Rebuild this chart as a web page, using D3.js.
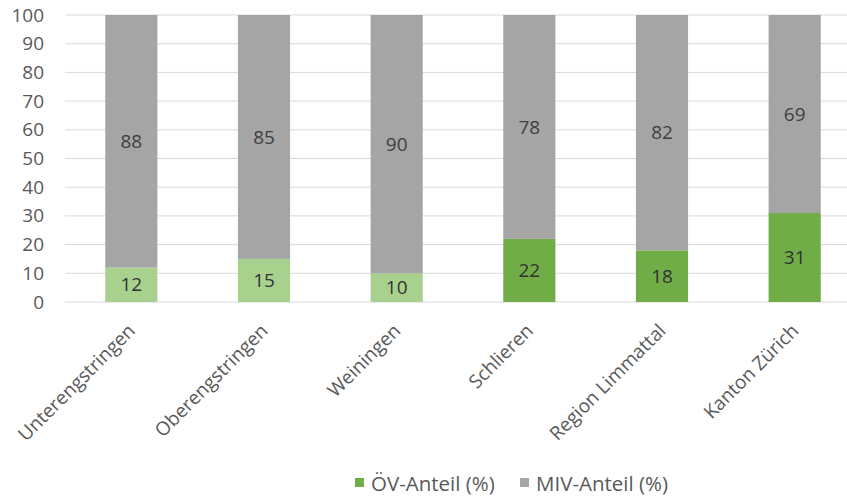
<!DOCTYPE html>
<html>
<head>
<meta charset="utf-8">
<script src="https://cdn.jsdelivr.net/npm/d3@7"></script>
<style>
    body { margin: 0; background: #fff; }
    svg { display: block; font-family: "Open Sans", sans-serif; }
    .tick text { fill: #595959; font-family: "Open Sans", sans-serif; }
</style>
</head>
<body>
<svg id="chart" width="847" height="497"></svg>
<script>
// Chart data
const categories = ["Unterengstringen", "Oberengstringen", "Weiningen", "Schlieren", "Region Limmattal", "Kanton Zürich"];
const oevValues = [12, 15, 10, 22, 18, 31];
const mivValues = [88, 85, 90, 78, 82, 69];
const oevColors = ["#a9d18e", "#a9d18e", "#a9d18e", "#70ad47", "#70ad47", "#70ad47"];
const yTicks = [0, 10, 20, 30, 40, 50, 60, 70, 80, 90, 100];
const seriesNames = ["ÖV-Anteil (%)", "MIV-Anteil (%)"];

const svg = d3.select("#chart");
const margin = { top: 15, left: 65, bottom: 195 };
const plotW = 796;
const plotH = 497 - margin.top - margin.bottom;

const g = svg.append("g").attr("transform", "translate(" + margin.left + "," + margin.top + ")");

const x = d3.scaleBand().domain(categories).range([0, plotW]).paddingInner(0.607).paddingOuter(0.3035);
const y = d3.scaleLinear().domain([0, 100]).range([plotH, 0]);

// gridlines
g.append("g")
    .selectAll("line")
    .data(yTicks)
    .enter().append("line")
    .attr("x1", 0)
    .attr("x2", plotW)
    .attr("y1", d => y(d))
    .attr("y2", d => y(d))
    .attr("stroke", "#d9d9d9")
    .attr("stroke-width", 1);

// y axis labels
const yAxis = g.append("g")
    .call(d3.axisLeft(y).tickValues(yTicks).tickSize(0).tickPadding(21));
yAxis.select(".domain").remove();
yAxis.selectAll("text").style("font-size", "19px");

// stacked bars
const rows = categories.map((c, i) => ({ cat: c, oev: oevValues[i], miv: mivValues[i], color: oevColors[i] }));

const bars = g.selectAll(".bar").data(rows).enter().append("g").attr("class", "bar");

bars.append("rect")
    .attr("x", d => x(d.cat))
    .attr("width", x.bandwidth())
    .attr("y", d => y(d.oev))
    .attr("height", d => y(0) - y(d.oev))
    .attr("fill", d => d.color);

bars.append("rect")
    .attr("x", d => x(d.cat))
    .attr("width", x.bandwidth())
    .attr("y", d => y(d.oev + d.miv))
    .attr("height", d => y(d.oev) - y(d.oev + d.miv))
    .attr("fill", "#a5a5a5");

// value labels
bars.append("text")
    .attr("x", d => x(d.cat) + x.bandwidth() / 2)
    .attr("y", d => y(d.oev / 2))
    .attr("dy", "0.35em")
    .attr("text-anchor", "middle")
    .style("font-size", "19px")
    .style("fill", "#333")
    .text(d => d.oev);

bars.append("text")
    .attr("x", d => x(d.cat) + x.bandwidth() / 2)
    .attr("y", d => y(d.oev + d.miv / 2))
    .attr("dy", "0.35em")
    .attr("text-anchor", "middle")
    .style("font-size", "19px")
    .style("fill", "#404040")
    .text(d => d.miv);

// x axis category labels, rotated
const xAxis = g.append("g")
    .attr("transform", "translate(0," + plotH + ")")
    .call(d3.axisBottom(x).tickSize(0).tickPadding(0));
xAxis.select(".domain").remove();
xAxis.selectAll("text")
    .style("font-size", "19px")
    .attr("text-anchor", "end")
    .attr("dy", "0")
    .attr("transform", "translate(5,30) rotate(-45)");

// legend
const legend = svg.append("g").attr("transform", "translate(355,491)");
const legendColors = ["#70ad47", "#a5a5a5"];
const legendX = [0, 165];
seriesNames.forEach((name, i) => {
    legend.append("rect")
        .attr("x", legendX[i])
        .attr("y", -13)
        .attr("width", 9)
        .attr("height", 9)
        .attr("fill", legendColors[i]);
    legend.append("text")
        .attr("x", legendX[i] + 16)
        .attr("y", 0)
        .style("font-size", "20.5px")
        .style("fill", "#595959")
        .text(name);
});
</script>
</body>
</html>
